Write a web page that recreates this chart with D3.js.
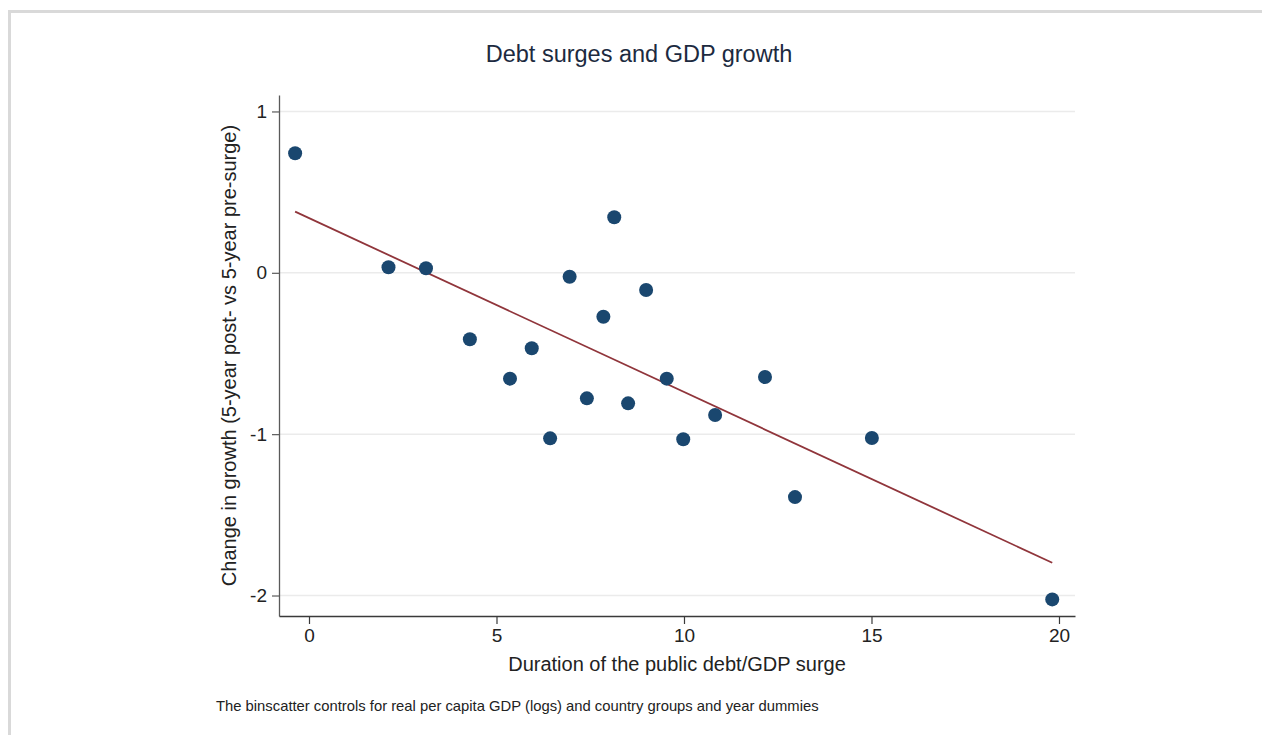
<!DOCTYPE html>
<html>
<head>
<meta charset="utf-8">
<script src="https://cdn.jsdelivr.net/npm/d3@7"></script>
<style>
  html, body { margin: 0; padding: 0; background: #ffffff; }
  svg { display: block; font-family: "Liberation Sans", Arial, Helvetica, sans-serif; }
</style>
</head>
<body>
<svg id="chart" width="1262" height="735"></svg>
<script>
// Binned scatter: surge duration (years) vs change in growth
const durationBins = [-0.37, 2.12, 3.12, 4.29, 5.36, 5.94, 6.43, 6.95, 7.41, 7.85,
                      8.14, 8.51, 8.99, 9.54, 9.98, 10.83, 12.16, 12.96, 15.01, 19.82];
const growthChange = [0.741, 0.034, 0.028, -0.412, -0.656, -0.468, -1.026, -0.024, -0.778, -0.272,
                      0.344, -0.809, -0.107, -0.656, -1.032, -0.881, -0.646, -1.39, -1.024, -2.024];

// Linear fit drawn across the range of the bins
const fitX = [-0.37, 19.82];
const fitY = [0.379, -1.797];

const xTicks = [0, 5, 10, 15, 20];
const yTicks = [1, 0, -1, -2];

const titleText = "Debt surges and GDP growth";
const xTitle = "Duration of the public debt/GDP surge";
const yTitle = "Change in growth (5-year post- vs 5-year pre-surge)";
const noteText = "The binscatter controls for real per capita GDP (logs) and country groups and year dummies";

const svg = d3.select("#chart");
const W = 1262, H = 735;

// integer labels with a plain hyphen for negatives
const intLabel = d => String(d);

// outer frame
svg.append("rect")
  .attr("x", 9.5).attr("y", 11.5)
  .attr("width", W + 20).attr("height", H + 20)
  .attr("fill", "#ffffff")
  .attr("stroke", "#d9d9d9").attr("stroke-width", 3);

const plot = { left: 279, top: 95, right: 1075, bottom: 616 };

const x = d3.scaleLinear().domain([-0.8, 20.427]).range([plot.left, plot.right]);
const y = d3.scaleLinear().domain([-2.127, 1.102]).range([plot.bottom, plot.top]);

// gridlines
svg.append("g")
  .selectAll("line")
  .data(yTicks)
  .join("line")
  .attr("x1", plot.left).attr("x2", plot.right)
  .attr("y1", d => y(d)).attr("y2", d => y(d))
  .attr("stroke", "#ebebeb").attr("stroke-width", 1.5);

// y axis
const yAxis = svg.append("g")
  .attr("transform", `translate(${plot.left},0)`)
  .call(d3.axisLeft(y).tickValues(yTicks).tickSizeInner(7).tickSizeOuter(0)
    .tickPadding(5).tickFormat(intLabel));
yAxis.select(".domain").attr("stroke", "#5a5a5a").attr("stroke-width", 1.3);
yAxis.selectAll(".tick line").attr("stroke", "#5a5a5a").attr("stroke-width", 1.2);
yAxis.selectAll(".tick text")
  .attr("fill", "#222").attr("font-size", 19)
  .style("font-family", "'Liberation Sans', Arial, sans-serif");

// x axis
const xAxis = svg.append("g")
  .attr("transform", `translate(0,${plot.bottom})`)
  .call(d3.axisBottom(x).tickValues(xTicks).tickSizeInner(8).tickSizeOuter(0)
    .tickPadding(5).tickFormat(intLabel));
xAxis.select(".domain").attr("stroke", "#3a3a3a").attr("stroke-width", 1.6);
xAxis.selectAll(".tick line").attr("stroke", "#3a3a3a").attr("stroke-width", 1.2);
xAxis.selectAll(".tick text")
  .attr("fill", "#222").attr("font-size", 19)
  .style("font-family", "'Liberation Sans', Arial, sans-serif");

// fitted line
svg.append("path")
  .datum(fitX.map((d, i) => [d, fitY[i]]))
  .attr("d", d3.line().x(d => x(d[0])).y(d => y(d[1])))
  .attr("fill", "none")
  .attr("stroke", "#90353b")
  .attr("stroke-width", 1.8);

// binned points
svg.append("g")
  .selectAll("circle")
  .data(durationBins.map((d, i) => ({ dx: d, gy: growthChange[i] })))
  .join("circle")
  .attr("cx", d => x(d.dx))
  .attr("cy", d => y(d.gy))
  .attr("r", 7)
  .attr("fill", "#1a476f");

// titles
svg.append("text")
  .attr("x", 639).attr("y", 61.5)
  .attr("text-anchor", "middle")
  .attr("font-size", 23.5)
  .attr("fill", "#1c2a40")
  .text(titleText);

svg.append("text")
  .attr("x", (plot.left + plot.right) / 2).attr("y", 671)
  .attr("text-anchor", "middle")
  .attr("font-size", 20)
  .attr("fill", "#222")
  .text(xTitle);

svg.append("text")
  .attr("transform", `translate(236,${(plot.top + plot.bottom) / 2}) rotate(-90)`)
  .attr("text-anchor", "middle")
  .attr("font-size", 20)
  .attr("fill", "#222")
  .text(yTitle);

svg.append("text")
  .attr("x", 216).attr("y", 711)
  .attr("font-size", 14.8)
  .attr("fill", "#222")
  .text(noteText);
</script>
</body>
</html>
